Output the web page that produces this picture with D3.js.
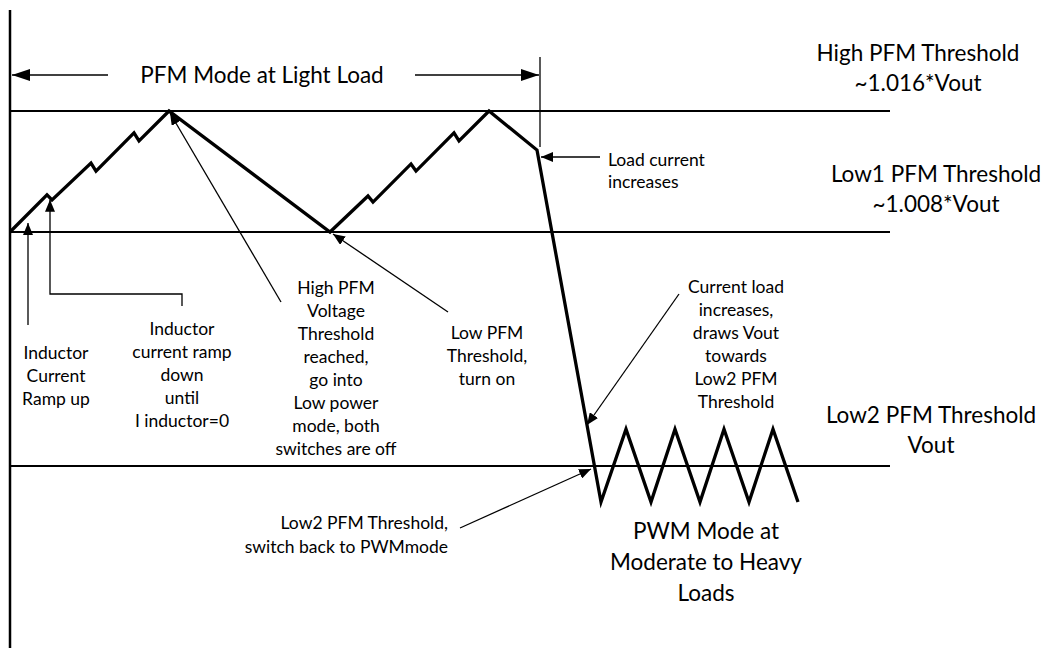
<!DOCTYPE html>
<html>
<head>
<meta charset="utf-8">
<script src="https://cdn.jsdelivr.net/npm/d3@7"></script>
<style>
  body { margin: 0; background: #fff; }
  text { font-family: Lato, "Open Sans", sans-serif; fill: #000; }
</style>
</head>
<body>
<svg id="chart" width="1055" height="648"></svg>
<script>
// threshold levels, in per mille above Vout
const levels = [16, 8, 0];
const levelLabels = [
  ['High PFM Threshold', '~1.016*Vout'],
  ['Low1 PFM Threshold', '~1.008*Vout'],
  ['Low2 PFM Threshold', 'Vout'],
];

// output voltage waveform (time in arbitrary units, vout in per mille above Vout)
const waveTime = [0, 3.7, 4.2, 8.1, 8.6, 12.4, 12.9, 15.9, 32.0, 35.8, 36.3, 40.1, 40.6, 44.4, 44.9, 47.9,
  52.7, 59.1, 61.6, 64.1, 66.5, 69.0, 71.4, 73.9, 76.3, 78.8];
const waveVout = [8, 10.45, 10.12, 12.56, 12.03, 14.55, 14.02, 16, 8, 10.38, 9.98, 12.5, 12.03, 14.55, 14.02, 16,
  13.42, -1.23, 1.26, -1.23, 1.26, -1.23, 1.26, -1.23, 1.26, -1.23];

// span of PFM mode
const pfmSpan = [0, 53.0];
const pfmTitle = 'PFM Mode at Light Load';
const pwmTitle = ['PWM Mode at', 'Moderate to Heavy', 'Loads'];

const svg = d3.select('#chart');
const x = d3.scaleLinear().domain([0, 88]).range([10, 890]);
const y = d3.scaleLinear().domain([0, 8, 16]).range([466, 232, 111]);

const defs = svg.append('defs');
function marker(id, len, wid) {
  defs.append('marker')
    .attr('id', id)
    .attr('markerUnits', 'userSpaceOnUse')
    .attr('markerWidth', len).attr('markerHeight', wid)
    .attr('refX', len).attr('refY', wid / 2)
    .attr('orient', 'auto')
    .append('path')
    .attr('d', `M0,0L${len},${wid / 2}L0,${wid}Z`)
    .attr('fill', '#000');
}
marker('head', 12, 10);
marker('bighead', 18, 12);

// vertical axis
svg.append('line')
  .attr('x1', x(0)).attr('x2', x(0))
  .attr('y1', 10).attr('y2', 648)
  .attr('stroke', '#000').attr('stroke-width', 2.5);

// threshold lines
svg.selectAll('line.level')
  .data(levels)
  .enter()
  .append('line')
  .attr('class', 'level')
  .attr('x1', x(0)).attr('x2', x(88))
  .attr('y1', (d) => y(d)).attr('y2', (d) => y(d))
  .attr('stroke', '#000').attr('stroke-width', 2);

// waveform
const pts = waveTime.map((t, i) => [x(t), y(waveVout[i])]);
svg.append('path')
  .attr('d', d3.line()(pts))
  .attr('fill', 'none')
  .attr('stroke', '#000')
  .attr('stroke-width', 3.3)
  .attr('stroke-linejoin', 'miter');

// PFM span marker
const spanY = 75;
svg.append('line')
  .attr('x1', x(pfmSpan[1])).attr('x2', x(pfmSpan[1]))
  .attr('y1', 57).attr('y2', y(waveVout[16]) - 3)
  .attr('stroke', '#000').attr('stroke-width', 1.3);
svg.append('line')
  .attr('x1', 108).attr('x2', x(pfmSpan[0]) + 2)
  .attr('y1', spanY).attr('y2', spanY)
  .attr('stroke', '#000').attr('stroke-width', 1.3)
  .attr('marker-end', 'url(#bighead)');
svg.append('line')
  .attr('x1', 415).attr('x2', x(pfmSpan[1]) - 1)
  .attr('y1', spanY).attr('y2', spanY)
  .attr('stroke', '#000').attr('stroke-width', 1.3)
  .attr('marker-end', 'url(#bighead)');

// annotation arrows
function arrow(points) {
  svg.append('path')
    .attr('d', d3.line()(points))
    .attr('fill', 'none')
    .attr('stroke', '#000')
    .attr('stroke-width', 1.3)
    .attr('marker-end', 'url(#head)');
}
arrow([[28, 325], [28, y(8.6)]]);
arrow([[182, 306], [182, 294], [50, 294], [50, y(10.2) + 1]]);
arrow([[281, 302], [x(waveTime[7]) + 1, y(16) + 2]]);
arrow([[448, 312], [x(waveTime[8]) + 3, y(8) + 2]]);
arrow([[600, 157], [x(pfmSpan[1]) + 1, 157]]);
arrow([[679, 294], [587, 425]]);
arrow([[460, 528], [591, y(0) + 3]]);

// text blocks
function block(lines, cx, cy, opts = {}) {
  const size = opts.size || 17.5;
  const lh = opts.lh || 23;
  const t = svg.append('text')
    .attr('text-anchor', opts.anchor || 'middle')
    .attr('font-size', size);
  lines.forEach((s, i) => {
    t.append('tspan')
      .attr('x', cx)
      .attr('y', cy + i * lh + size * 0.35)
      .text(s);
  });
}

block(['Inductor', 'Current', 'Ramp up'], 56, 353);
block(['Inductor', 'current ramp', 'down', 'until', 'I inductor=0'], 182, 329);
block(['High PFM', 'Voltage', 'Threshold', 'reached,', 'go into', 'Low power', 'mode, both', 'switches are off'], 336, 288);
block(['Low PFM', 'Threshold,', 'turn on'], 487, 333);
block(['Load current', 'increases'], 608, 160, { anchor: 'start', lh: 22 });
block(['Current load', 'increases,', 'draws Vout', 'towards', 'Low2 PFM', 'Threshold'], 736, 287);
block(['Low2 PFM Threshold,', 'switch back to PWMmode'], 448, 523, { anchor: 'end', lh: 24 });

block(pwmTitle, 706, 531, { size: 22.5, lh: 31 });
block([pfmTitle], 262, spanY, { size: 22.5 });

const labelPos = [[918, 53], [936, 174], [931, 415]];
levelLabels.forEach((lines, i) => {
  block(lines, labelPos[i][0], labelPos[i][1], { size: 22.5, lh: 30 });
});
</script>
</body>
</html>
